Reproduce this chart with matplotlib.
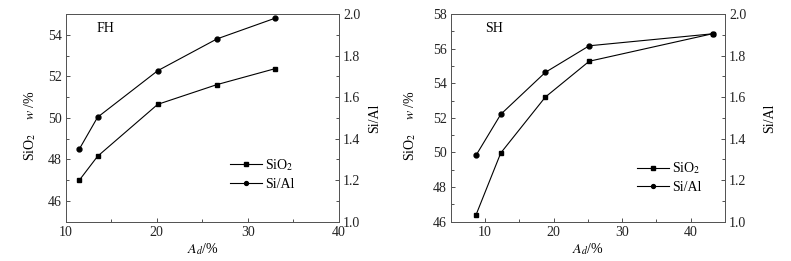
import matplotlib
matplotlib.use('Agg')
import matplotlib.pyplot as plt
from matplotlib.ticker import MultipleLocator, FormatStrFormatter

plt.rcParams['font.family'] = ['Liberation Serif', 'DejaVu Serif']
plt.rcParams['mathtext.fontset'] = 'stix'
plt.rcParams['font.size'] = 10

# FH panel
fh_ad = [11.5, 13.5, 20.1, 26.6, 33.0]
fh_sio2 = [47.0, 48.15, 50.65, 51.6, 52.37]
fh_sial = [1.35, 1.503, 1.727, 1.88, 1.98]

# SH panel
sh_ad = [8.7, 12.3, 18.8, 25.2, 43.3]
sh_sio2 = [46.4, 49.97, 53.2, 55.27, 56.87]
sh_sial = [1.32, 1.517, 1.719, 1.847, 1.905]

fig = plt.figure(figsize=(7.91, 2.61), dpi=100)
W, H = 791, 261

def panel(left, right, x, sio2, sial, xlim, ylim, yticks, name, txt_x, leg_xy, ylab_x, y2lab_x):
    ax = fig.add_axes([left / W, 1 - 221.7 / H, (right - left) / W, (221.7 - 14) / H])
    ax2 = ax.twinx()
    l1, = ax.plot(x, sio2, color='black', lw=0.8, marker='s', ms=3.3)
    l2, = ax2.plot(x, sial, color='black', lw=0.8, marker='o', ms=3.5)
    ax.set_xlim(*xlim)
    ax.set_ylim(*ylim)
    ax2.set_ylim(1.0, 2.0)
    ax.set_xticks([10, 20, 30, 40])
    ax.set_yticks(yticks)
    ax.xaxis.set_minor_locator(MultipleLocator(5))
    ax.yaxis.set_minor_locator(MultipleLocator(1))
    ax2.set_yticks([1.0, 1.2, 1.4, 1.6, 1.8, 2.0])
    ax2.yaxis.set_minor_locator(MultipleLocator(0.1))
    ax2.yaxis.set_major_formatter(FormatStrFormatter('%.1f'))
    for a in (ax, ax2):
        a.tick_params(which='both', direction='in', colors='#333333', labelcolor='#222222',
                      labelsize=10, pad=3)
        a.tick_params(which='major', length=3, width=0.6)
        a.tick_params(which='minor', length=2, width=0.6)
        for s in a.spines.values():
            s.set_color('#555555')
            s.set_linewidth(0.7)
    ax.set_xlabel('$A_d$/%', fontsize=10, labelpad=2)
    ax.set_ylabel('SiO$_2$    $w$ /%', fontsize=10)
    ax.yaxis.set_label_coords(ylab_x, 0.463)
    ax2.set_ylabel('Si/Al', rotation=90, fontsize=10)
    ax2.yaxis.set_label_coords(y2lab_x, 0.5)
    ax.text(txt_x, 0.96, name, transform=ax.transAxes, ha='left', va='top', fontsize=10)
    ax.legend([l1, l2], ['SiO$_2$', 'Si/Al'], loc='center left', bbox_to_anchor=leg_xy,
              frameon=False, handlelength=2.3, handletextpad=0.25, labelspacing=0.35,
              fontsize=10, borderaxespad=0, borderpad=0, markerscale=0.8)
    return ax

panel(65.7, 339, fh_ad, fh_sio2, fh_sial, (10, 40), (45, 55), [46, 48, 50, 52, 54],
      'FH', 0.113, (0.601, 0.229), -0.101, 1.106)
panel(450.7, 725, sh_ad, sh_sio2, sh_sial, (5, 45), (46, 58), [46, 48, 50, 52, 54, 56, 58],
      'SH', 0.126, (0.679, 0.213), -0.119, 1.139)

fig.savefig('out.png', dpi=100)
